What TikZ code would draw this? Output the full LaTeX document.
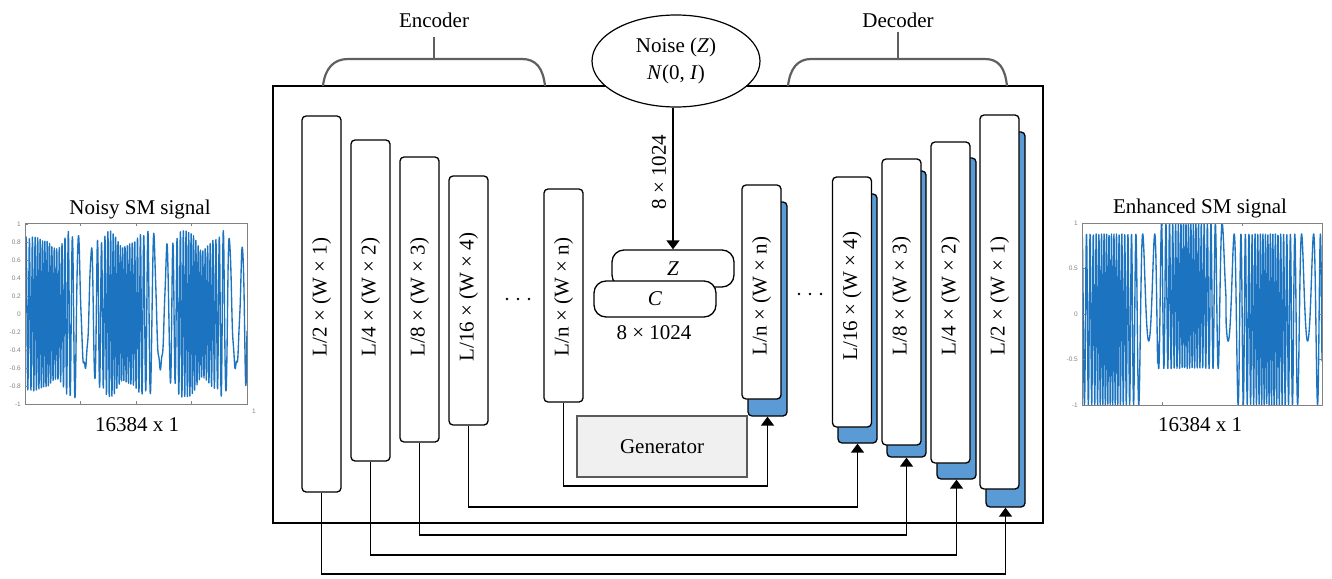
\documentclass[tikz,border=0pt]{standalone}
\usepackage{fontspec}
\setmainfont{Liberation Serif}
\newfontfamily\axisfont{Liberation Sans}
\usetikzlibrary{arrows.meta,shapes.geometric,calc}

\definecolor{sigblue}{RGB}{28,116,192}
\definecolor{blkblue}{RGB}{91,155,213}
\definecolor{genfill}{RGB}{240,240,240}
\definecolor{gengray}{RGB}{90,90,90}
\definecolor{bracegray}{RGB}{95,95,95}
\definecolor{axisgray}{RGB}{130,130,130}

\begin{document}
\begin{tikzpicture}[x=1pt,y=-1pt,
  every node/.style={font=\fontsize{21}{27}\selectfont, inner sep=0pt},
  wblk/.style={draw=black, fill=white, line width=1.3pt, rounded corners=4pt, minimum width=39pt},
  bblk/.style={draw=black, fill=blkblue, line width=1.3pt, rounded corners=4pt, minimum width=39pt},
  vlab/.style={rotate=90},
  conn/.style={line width=1.4pt},
  arr/.style={conn, -{Triangle[width=13pt,length=9pt]}},
  brace/.style={draw=bracegray, line width=2.2pt},
  sig/.style={draw=sigblue, line width=1.35pt, line join=round},
  axbox/.style={draw=axisgray, line width=0.8pt},
  tick/.style={draw=axisgray, line width=0.6pt},
  ticklab/.style={font=\axisfont\fontsize{6.5}{7}\selectfont, text=axisgray},
  declare function={
    phiN(\t)=65.25*cos(deg(2*pi*(\t-0.27)/0.68));
    sigN(\t)=(0.82+0.08*sin(deg(37*\t)))*cos(deg(phiN(\t)))+0.04*sin(deg(mod(523*\t,6.283185)));
    phiE(\t)=64.66*cos(deg(2*pi*(\t-0.278)/0.662));
    midE(\t)=(\t>0.315)*(\t<0.6);
    sigE(\t)=midE(\t)*(0.8*cos(deg(phiE(\t)))+0.2)+(1-midE(\t))*(0.94*cos(deg(phiE(\t)))-0.06);
  }]

\useasboundingbox (0,0) rectangle (1332,578);

% ---------- input signal plot ----------
\begin{scope}
  \clip (25,223) rectangle (247,404);
  \draw[sig] plot[domain=0:1, samples=1500, variable=\t] ({25+222*\t},{314-90*sigN(\t)});
\end{scope}
\draw[axbox] (25,223) rectangle (247,404);
\foreach \k in {1,2,3} {
  \draw[tick] ({25+55.5*\k},223) -- ++(0,3);
  \draw[tick] ({25+55.5*\k},404) -- ++(0,-3);
}
\foreach \v/\s in {1/1,0.8/0.8,0.6/0.6,0.4/0.4,0.2/0.2,0/0,-0.2/-0.2,-0.4/-0.4,-0.6/-0.6,-0.8/-0.8,-1/-1} {
  \node[ticklab, anchor=east] at (21,{314-90*\v}) {\s};
  \draw[tick] (25,{314-90*\v}) -- ++(3,0);
}
\node[ticklab] (xend) at (254,411) {1};
\node (tl) at (140,209) {Noisy SM signal};
\node (sl) at (137,425) {16384 x 1};

% ---------- output signal plot ----------
\begin{scope}
  \clip (1082,223) rectangle (1322,405);
  \draw[sig] plot[domain=0:1, samples=1500, variable=\t] ({1082+240*\t},{314-91*sigE(\t)});
\end{scope}
\draw[axbox] (1082,223) rectangle (1322,405);
\foreach \k in {1,2} {
  \draw[tick] ({1082+80*\k},223) -- ++(0,3);
  \draw[tick] ({1082+80*\k},405) -- ++(0,-3);
}
\foreach \v/\s in {1/1,0.5/0.5,0/0,-0.5/-0.5,-1/-1} {
  \node[ticklab, anchor=east] at (1078,{314-91*\v}) {\s};
  \draw[tick] (1082,{314-91*\v}) -- ++(3,0);
  \draw[tick] (1322,{314-91*\v}) -- ++(-3,0);
}
\node (tr) at (1200,208) {Enhanced SM signal};
\node (sr) at (1200,425) {16384 x 1};

% ---------- network frame and braces ----------
\node[draw=black, line width=1.2pt, minimum width=770pt, minimum height=437pt] (frame) at (658,304.5) {};

\draw[brace] (323,86) .. controls (325,68) and (334,59) .. (348,59) -- (522,59)
             .. controls (536,59) and (543,68) .. (545,86);
\draw[brace] (434,59) -- (434,37);
\node (enc) at (434,20) {Encoder};

\draw[brace] (788,86) .. controls (790,68) and (798,59) .. (811,59) -- (985,59)
             .. controls (999,59) and (1005,68) .. (1007,86);
\draw[brace] (898,59) -- (898,32);
\node (dec) at (898,20) {Decoder};

% ---------- encoder blocks ----------
\node[wblk, minimum height=376pt] (e1) at (321.5,304) {};
\node[wblk, minimum height=321pt] (e2) at (370.5,300.5) {};
\node[wblk, minimum height=285pt] (e3) at (419.5,299.5) {};
\node[wblk, minimum height=249pt] (e4) at (468.5,300.5) {};
\node[wblk, minimum height=213pt] (e5) at (563.5,295.5) {};
\node[vlab] (te1) at (321.5,297) {L/2 × (W × 1)};
\node[vlab] (te2) at (370.5,297) {L/4 × (W × 2)};
\node[vlab] (te3) at (419.5,297) {L/8 × (W × 3)};
\node[vlab] (te4) at (468.5,297) {L/16 × (W × 4)};
\node[vlab] (te5) at (563.5,297) {L/n × (W × n)};
\foreach \x in {507,518,529} \fill (\x,299) circle (1.3);

% ---------- decoder blocks (blue layer behind white layer) ----------
\node[bblk, minimum height=214pt] (b5) at (767.5,309) {};
\node[wblk, minimum height=214pt] (d5) at (761.5,292) {};
\node[bblk, minimum height=249pt] (b4) at (857.5,318.5) {};
\node[wblk, minimum height=250pt] (d4) at (852,302) {};
\node[bblk, minimum height=286pt] (b3) at (906.5,314) {};
\node[wblk, minimum height=286pt] (d3) at (901.5,302) {};
\node[bblk, minimum height=321pt] (b2) at (956.5,318.5) {};
\node[wblk, minimum height=321pt] (d2) at (950.5,302.5) {};
\node[bblk, minimum height=375pt] (b1) at (1005.5,319.5) {};
\node[wblk, minimum height=374pt] (d1) at (999.5,302) {};
\node[vlab] (td5) at (761.5,296) {L/n × (W × n)};
\node[vlab] (td4) at (852,296) {L/16 × (W × 4)};
\node[vlab] (td3) at (901.5,296) {L/8 × (W × 3)};
\node[vlab] (td2) at (950.5,296) {L/4 × (W × 2)};
\node[vlab] (td1) at (999.5,296) {L/2 × (W × 1)};
\foreach \x in {799,810,821} \fill (\x,294) circle (1.3);

% ---------- latent code and noise ----------
\node[draw=black, fill=white, line width=1.3pt, rounded corners=12pt,
      minimum width=122pt, minimum height=37pt] (zb) at (673,268.5) {};
\node (zt) at (673,268.5) {\textit{Z}};
\node[draw=black, fill=white, line width=1.3pt, rounded corners=12pt,
      minimum width=122pt, minimum height=36pt] (cb) at (655,299) {\textit{C}};
\node (cdim) at (654,333) {8 × 1024};

\node[draw=black, fill=white, line width=1.2pt, ellipse, align=center,
      minimum width=168pt, minimum height=92pt] (noise) at (676,61)
      {Noise (\textit{Z})\\\textit{N}(0, \textit{I})};
\draw[arr] (zb.north |- noise.south) -- (zb.north);
\node[vlab] (zdim) at (659,172) {8 × 1024};

% ---------- generator ----------
\node[draw=gengray, fill=genfill, line width=1.8pt, minimum width=170pt,
      minimum height=61pt] (gen) at (662,446.5) {Generator};

% ---------- skip connections ----------
\coordinate (r5) at (0,486);
\coordinate (r4) at (0,507);
\coordinate (r3) at (0,535);
\coordinate (r2) at (0,555);
\coordinate (r1) at (0,574);
\draw[arr] (e5.south) -- (e5.south |- r5) -| (b5.south);
\draw[arr] (e4.south) -- (e4.south |- r4) -| (b4.south);
\draw[arr] (e3.south) -- (e3.south |- r3) -| (b3.south);
\draw[arr] (e2.south) -- (e2.south |- r2) -| (b2.south);
\draw[arr] (e1.south) -- (e1.south |- r1) -| (b1.south);

\end{tikzpicture}
\end{document}
